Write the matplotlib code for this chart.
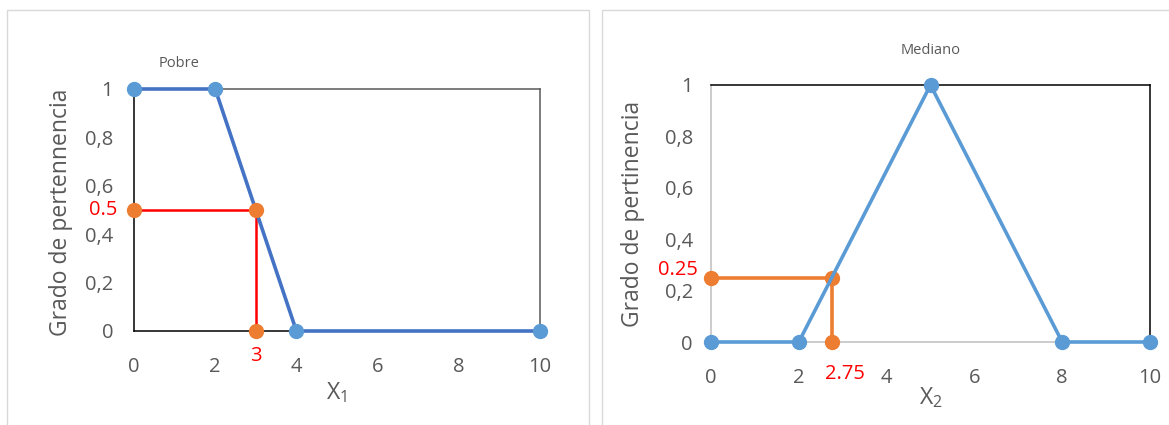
import matplotlib
matplotlib.use("Agg")
import matplotlib.pyplot as plt
from matplotlib.patches import Rectangle

plt.rcParams['font.family'] = ['Open Sans', 'DejaVu Sans']
plt.rcParams['mathtext.default'] = 'regular'

# Pobre (X1) membership function
x1_pts = [0, 2, 4, 10]
y1_pts = [1, 1, 0, 0]
x1_cut = [0, 3, 3]
y1_cut = [0.5, 0.5, 0]

# Mediano (X2) membership function
x2_pts = [0, 2, 5, 8, 10]
y2_pts = [0, 0, 1, 0, 0]
x2_cut = [0, 2.75, 2.75]
y2_cut = [0.25, 0.25, 0]

x_ticks = [0, 2, 4, 6, 8, 10]
y_ticks = [0, 0.2, 0.4, 0.6, 0.8, 1]
y_ticklabels = ['0', '0,2', '0,4', '0,6', '0,8', '1']

BLUE_DARK = '#4472C4'
BLUE = '#5B9BD5'
ORANGE = '#ED7D31'
GREY = '#595959'
FS = 14.5

fig = plt.figure(figsize=(11.69, 4.25), dpi=100)

# panel frames
fig.patches.append(Rectangle((7/1169, -0.01), 582/1169, 1 - 10/425 + 0.01, transform=fig.transFigure,
                             fill=False, edgecolor='#d9d9d9', lw=1))
fig.patches.append(Rectangle((602/1169, -0.01), 570/1169, 1 - 10/425 + 0.01, transform=fig.transFigure,
                             fill=False, edgecolor='#d9d9d9', lw=1))

ax1 = fig.add_axes([134/1169, 1 - 331/425, 406/1169, 242/425])
ax2 = fig.add_axes([711/1169, 1 - 342/425, 439/1169, 257/425])

for ax in (ax1, ax2):
    ax.set_xlim(0, 10)
    ax.set_ylim(0, 1)
    ax.set_xticks(x_ticks)
    ax.set_yticks(y_ticks)
    ax.set_yticklabels(y_ticklabels)
    ax.tick_params(length=0, labelsize=FS, labelcolor=GREY)

# left panel
ax1.tick_params(axis='x', pad=19)
ax1.tick_params(axis='y', pad=15)
ax1.spines['left'].set_color('black')
ax1.spines['bottom'].set_color('black')
ax1.spines['top'].set_color(GREY)
ax1.spines['right'].set_color(GREY)
for s in ax1.spines.values():
    s.set_linewidth(1.1)
ax1.plot(x1_cut, y1_cut, color='red', lw=1.8, zorder=3)
ax1.plot(x1_cut, y1_cut, 'o', color=ORANGE, ms=10, zorder=5, clip_on=False)
ax1.plot(x1_pts, y1_pts, color=BLUE_DARK, lw=2.6, marker='o', ms=10,
         mfc=BLUE, mec=BLUE, zorder=4, clip_on=False)
ax1.text(-0.42, 0.5, '0.5', color='red', fontsize=FS, ha='right', va='center')
ax1.text(3, -0.06, '3', color='red', fontsize=FS, ha='center', va='top')
ax1.text(1.1, 1.075, 'Pobre', color=GREY, fontsize=10.5, ha='center', va='bottom')
ax1.set_ylabel('Grado de pertennencia', fontsize=16.5, color=GREY)
ax1.set_xlabel('X$_1$', fontsize=16.5, color=GREY, labelpad=2)
ax1.yaxis.set_label_coords(-0.15, 0.49)

# right panel
ax2.tick_params(axis='x', pad=19)
ax2.tick_params(axis='y', pad=13)
ax2.spines['left'].set_color('#bfbfbf')
ax2.spines['bottom'].set_color('#bfbfbf')
ax2.spines['top'].set_color('black')
ax2.spines['right'].set_color('black')
for s in ax2.spines.values():
    s.set_linewidth(1.1)
ax2.plot(x2_cut, y2_cut, color=ORANGE, lw=2.6, marker='o', ms=10, zorder=3, clip_on=False)
ax2.plot(x2_pts, y2_pts, color=BLUE, lw=2.6, marker='o', ms=10, zorder=4, clip_on=False)
ax2.text(-0.3, 0.28, '0.25', color='red', fontsize=FS, ha='right', va='center')
ax2.text(3.05, -0.125, '2.75', color='red', fontsize=FS, ha='center', va='center')
ax2.set_title('Mediano', fontsize=10.5, color=GREY, pad=22)
ax2.set_ylabel('Grado de pertinencia', fontsize=16.5, color=GREY)
ax2.set_xlabel('X$_2$', fontsize=16.5, color=GREY, labelpad=-2)
ax2.yaxis.set_label_coords(-0.15, 0.5)

fig.savefig('out.png', dpi=100)
